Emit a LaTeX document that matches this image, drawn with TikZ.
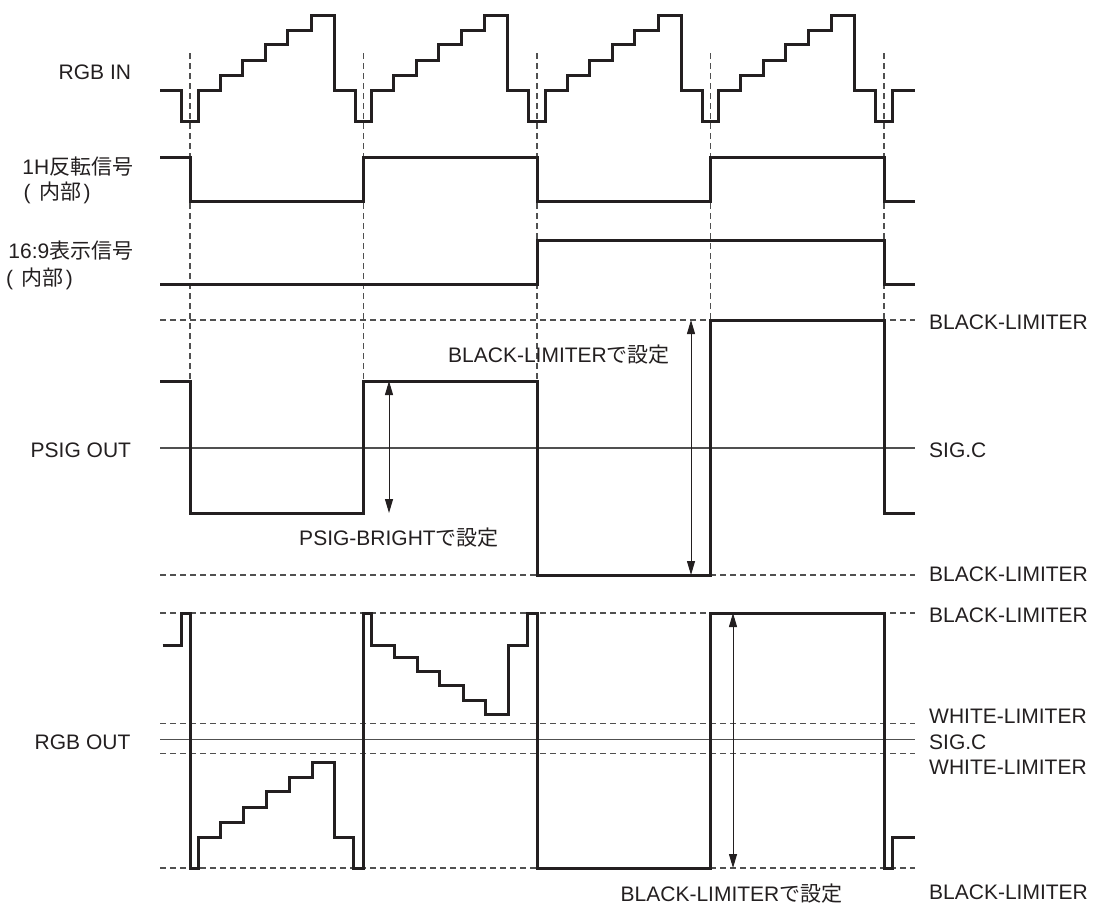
\documentclass[tikz,border=0pt]{standalone}
\usepackage{fontspec}
\setmainfont{Liberation Sans}
\newfontfamily\jp{Noto Sans CJK JP}
\usetikzlibrary{arrows.meta}
\definecolor{ink}{HTML}{231F20}
\definecolor{gridc}{HTML}{505050}
\tikzset{
  wave/.style={
    line width = 3pt,
    draw = ink,
    line join = miter
  },
  limitline/.style={
    line width = 1.1pt,
    draw = gridc,
    dash pattern = on 6pt off 4pt
  },
  timeline/.style={
    line width = 1.1pt,
    draw = gridc,
    dash pattern = on 6pt off 4pt
  },
  centerline/.style={
    line width = 1.1pt,
    draw = gridc
  },
  setspan/.style={
    line width = 1pt,
    draw = ink,
    {Triangle[length=14pt,width=8pt]}-{Triangle[length=14pt,width=8pt]}
  },
  lbl/.style={
    font = \fontsize{21pt}{25pt}\selectfont,
    text = ink,
    inner sep = 0pt,
    text height = 15pt,
    text depth = 0pt
  }
}
\begin{document}
\begin{tikzpicture}[x=1pt,y=-1pt]
        \useasboundingbox (0,0) rectangle (1095,906);
        \foreach \x/\e in {190/381,363.5/381,537/381,710.5/320,884/320}
          \draw[timeline] (\x,53) -- (\x,\e);
        \foreach \y in {320,575,613,723.3,753.3,868}
          \draw[limitline] (160,\y) -- (915,\y);
        \draw[centerline] (160,448) -- (915,448);
        \draw[centerline] (160,739.5) -- (915,739.5);
        \draw[wave] (160,90) -| (181.7,121.7) -| (198.3,90)
          foreach \d in {190,363.5,537,710.5} {
            -| ({\d+30},75) -| ({\d+52.5},60.5) -| ({\d+75},44.5) -| ({\d+97.5},30)
            -| ({\d+121},15) -| ({\d+144},90) -| ({\d+165.2},121.7) -| ({\d+181.8},90)
          } -- (915,90);
        \draw[wave] (160,157) -| (190,201) -| (363.5,157) -| (537,201) -| (710.5,157) -| (884,201) -- (915,201);
        \draw[wave] (160,284) -| (537,240) -| (884,284) -- (915,284);
        \draw[wave] (160,381) -| (190,513) -| (363.5,381) -| (537,575) -| (710.5,320) -| (884,513) -- (915,513);
        \draw[wave] (162.7,645) -| (181,613) -| (190,868) -| (198.3,837.3) -| (220,822.3) -| (243.3,807.3)
          -| (266,791.3) -| (289,777.3) -| (312.3,762.3) -| (334.3,837.3) -| (353.3,868) -| (363.5,613)
          -| (371,645) -| (394.3,657.3) -| (417.7,671) -| (439.3,685.7) -| (463.3,700) -| (485.7,714.3)
          -| (508.3,645) -| (527.7,613) -| (537,868) -| (710.5,613) -| (884,868) -| (892.3,837.5) -- (915,837.5);
        \coordinate (brightTop) at (389,381);
        \coordinate (brightBot) at (389,513);
        \coordinate (psigLimTop) at (691,320);
        \coordinate (psigLimBot) at (691,575);
        \coordinate (rgbLimTop) at (733,613);
        \coordinate (rgbLimBot) at (733,868);
        \draw[setspan] (brightTop) -- (brightBot);
        \draw[setspan] (psigLimTop) -- (psigLimBot);
        \draw[setspan] (rgbLimTop) -- (rgbLimBot);
        \node[lbl, anchor=west] (rgbIn) at (58.5,71.7) {RGB IN};
        \node[lbl, anchor=east] (invSig) at (133.5,166.7) {1H{\jp 反転信号}};
        \node[lbl, anchor=west] (invSub) at (23.5,191.7) {(\kern9pt{\jp 内部}\kern2pt)};
        \node[lbl, anchor=east] (wideSig) at (133.5,251) {16:9{\jp 表示信号}};
        \node[lbl, anchor=west] (wideSub) at (5.8,278) {(\kern9pt{\jp 内部}\kern2pt)};
        \node[lbl, anchor=west] (psigOut) at (30.5,450) {PSIG OUT};
        \node[lbl, anchor=west] (rgbOut) at (34.5,741.7) {RGB OUT};
        \node[lbl] (brightLbl) at (399,538) {PSIG-BRIGHT{\jp で設定}};
        \node[lbl] (psigLimLbl) at (559,355) {BLACK-LIMITER{\jp で設定}};
        \node[lbl] (rgbLimLbl) at (731.5,894) {BLACK-LIMITER{\jp で設定}};
        \node[lbl, anchor=west] (blTop) at (929,322) {BLACK-LIMITER};
        \node[lbl, anchor=west] (scTop) at (929,450) {SIG.C};
        \node[lbl, anchor=west] (blMid) at (929,574) {BLACK-LIMITER};
        \node[lbl, anchor=west] (blUp) at (929,615) {BLACK-LIMITER};
        \node[lbl, anchor=west] (wlUp) at (929,716) {WHITE-LIMITER};
        \node[lbl, anchor=west] (scBot) at (929,741.5) {SIG.C};
        \node[lbl, anchor=west] (wlLow) at (929,766.5) {WHITE-LIMITER};
        \node[lbl, anchor=west] (blLow) at (929,892) {BLACK-LIMITER};
\end{tikzpicture}
\end{document}
